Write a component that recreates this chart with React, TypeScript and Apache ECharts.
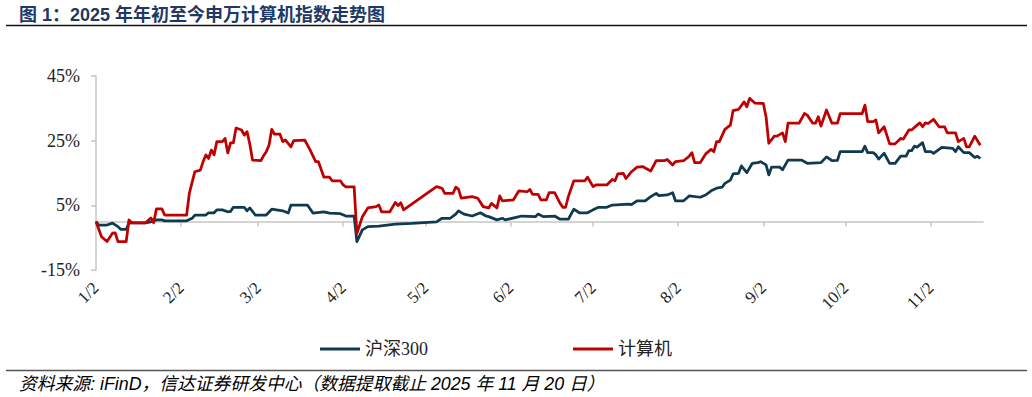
import React, { useEffect, useRef } from "react";
import * as echarts from "echarts";

// ---- data ----
const tickLabels = ["1/2", "2/2", "3/2", "4/2", "5/2", "6/2", "7/2", "8/2", "9/2", "10/2", "11/2"];
const xStart = "01-02";
const xEnd = "11-21";

const hs300Dates = [
  "01-02","01-03","01-06","01-08","01-10","01-11","01-13","01-14","01-15","01-20","01-22","01-24","01-26","01-27",
  "02-04","02-06","02-07","02-11","02-12","02-14","02-15","02-17","02-19","02-20","02-21","02-25","02-26","02-27",
  "03-01","03-05","03-07","03-11","03-13","03-14","03-20","03-22","03-26","03-28",
  "04-01","04-03","04-06","04-07","04-09","04-11","04-15","04-21","04-27",
  "05-06","05-08","05-11","05-13","05-14","05-16","05-19","05-22","05-24","05-25","05-28","05-30","05-31",
  "06-04","06-06","06-11","06-12","06-14","06-18","06-20","06-23","06-25","06-27","06-30",
  "07-02","07-04","07-07","07-09","07-15","07-16","07-18","07-21","07-23","07-25","07-26","07-29","07-31",
  "08-01","08-04","08-06","08-10","08-12","08-14","08-16","08-18","08-19","08-21","08-22","08-24","08-25","08-27","08-29","08-31",
  "09-01","09-03","09-04","09-05","09-08","09-09","09-11","09-16","09-18","09-23","09-25","09-27","09-29","09-30",
  "10-08","10-09","10-10","10-12","10-13","10-14","10-16","10-18","10-20","10-22","10-24","10-25","10-26","10-27","10-28","10-30","10-31",
  "11-02","11-03","11-06","11-10","11-11","11-12","11-14","11-16","11-18","11-19","11-20"
];
const hs300Values = [
  0.0,-1.1,-1.1,-0.5,-1.6,-2.4,-2.4,-0.5,-0.4,-0.4,-0.1,0.5,0.5,0.2,
  0.2,1.0,2.0,2.0,2.7,2.7,3.6,3.6,3.0,3.1,4.4,4.4,3.3,4.2,
  2.0,2.0,3.8,3.3,2.6,5.1,5.1,2.6,3.0,2.6,
  2.4,1.7,1.7,-6.2,-2.6,-1.6,-1.4,-0.8,-0.6,
  -0.1,1.0,1.0,2.3,3.3,2.3,1.7,2.7,1.7,1.5,0.5,1.0,0.5,
  1.3,1.7,1.5,2.3,1.5,1.7,0.7,0.7,3.8,2.7,2.7,
  3.6,4.4,4.4,5.1,5.4,5.2,6.4,6.4,7.7,8.7,8.0,8.2,8.9,
  6.4,6.4,7.9,7.5,8.2,9.5,10.3,10.6,11.8,12.8,14.7,14.9,17.2,15.1,18.0,18.2,
  18.5,17.5,14.4,16.8,16.8,16.0,19.0,19.0,18.0,18.2,20.0,18.8,18.9,21.6,
  21.6,23.3,21.3,21.3,20.6,19.3,21.1,18.0,18.0,20.2,20.2,21.9,21.9,23.3,23.0,24.4,21.6,
  21.6,21.1,22.9,22.6,21.6,23.1,21.3,21.3,19.8,20.2,19.5
];

const computerDates = [
  "01-02","01-04","01-06","01-08","01-09","01-10","01-13","01-14","01-15","01-20","01-22","01-23","01-24","01-26","01-27",
  "02-04","02-05","02-07","02-09","02-10","02-11","02-12","02-13","02-14","02-15","02-17","02-18","02-19","02-20","02-21","02-22","02-24","02-25","02-26","02-27","02-28",
  "03-03","03-04","03-05","03-06","03-07","03-08","03-10","03-11","03-12","03-14","03-15","03-19","03-21","03-23","03-24","03-26","03-28","03-29",
  "04-01","04-02","04-03","04-06","04-07","04-09","04-11","04-14","04-15","04-16","04-19","04-21","04-22","04-23","04-24",
  "05-06","05-08","05-09","05-12","05-13","05-14","05-15","05-19","05-21","05-23","05-25","05-26","05-28","05-29","05-30",
  "06-03","06-05","06-08","06-09","06-10","06-12","06-13","06-15","06-16","06-18","06-20","06-21","06-22","06-23","06-25","06-29","06-30",
  "07-02","07-03","07-07","07-09","07-10","07-11","07-13","07-14","07-16","07-18","07-20","07-23","07-25","07-28","07-29","07-31",
  "08-01","08-04","08-06","08-07","08-08","08-10","08-12","08-14","08-15","08-16","08-17","08-19","08-21","08-22","08-24","08-26","08-27","08-28","08-30",
  "09-01","09-02","09-03","09-04","09-06","09-07","09-09","09-10","09-11","09-15","09-17","09-18","09-20","09-21","09-22","09-23","09-25","09-27","09-29","09-30",
  "10-08","10-09","10-10","10-12","10-13","10-14","10-16","10-18","10-20","10-22","10-23","10-25","10-26","10-28","10-29","10-30","10-31",
  "11-01","11-03","11-05","11-07","11-08","11-11","11-12","11-14","11-15","11-16","11-18","11-20"
];
const computerValues = [
  0.0,-4.7,-6.2,-3.6,-3.5,-6.2,-6.2,0.5,-0.4,-0.4,1.1,-0.4,3.9,3.9,2.0,
  2.0,8.8,15.4,15.9,18.5,20.6,19.5,22.1,20.6,24.7,24.7,25.7,21.2,24.3,24.3,28.9,28.3,26.7,27.8,24.0,19.0,
  18.8,20.3,21.6,23.6,28.5,27.0,27.0,24.7,25.2,23.1,25.0,25.2,22.1,18.5,18.5,13.7,13.7,12.6,
  12.6,11.3,10.7,10.7,-3.7,1.5,4.2,4.6,5.1,3.0,3.0,5.9,4.9,5.8,3.6,
  10.8,10.3,8.7,8.7,10.6,10.0,7.2,7.7,7.2,4.6,4.2,5.6,4.2,7.9,6.4,
  6.7,9.5,9.2,9.9,8.4,8.4,6.7,6.7,8.9,8.9,5.6,4.4,4.4,7.7,12.6,12.6,13.7,
  10.8,11.3,11.3,13.0,12.6,14.7,14.9,13.3,15.4,16.8,17.0,15.6,18.8,18.8,19.2,17.5,
  18.5,18.8,20.2,21.3,18.2,18.2,20.9,22.3,21.6,24.7,24.7,28.5,29.8,34.3,34.7,37.0,35.5,38.1,36.6,
  36.5,36.5,32.4,24.2,26.4,26.4,27.4,24.7,30.4,30.4,33.4,32.9,30.4,30.4,32.4,29.5,34.5,30.4,30.4,33.4,
  33.4,36.0,30.9,30.9,31.4,27.4,29.3,24.0,24.0,25.7,25.5,28.3,28.3,29.8,30.5,29.3,30.5,
  30.3,31.6,29.3,29.3,27.4,27.4,24.7,25.7,23.1,23.1,26.4,23.6
];

const seriesNames = ["沪深300", "计算机"];
const yTicks = { min: -15, max: 45, interval: 20 };

const titleText = "图 1：2025 年年初至今申万计算机指数走势图";
const footerText = "资料来源: iFinD，信达证券研发中心（数据提取截止 2025 年 11 月 20 日）";

const DAY = 86400000;
const toTs = (md: string) => {
  const [m, d] = md.split("-").map(Number);
  return Date.UTC(2025, m - 1, d) / DAY;
};
const tickTs = tickLabels.map((s) => {
  const [m, d] = s.split("/").map(Number);
  return Date.UTC(2025, m - 1, d) / DAY;
});
const fmtDay = (v: number) => {
  const d = new Date(Math.round(v) * DAY);
  return `${d.getUTCMonth() + 1}/${d.getUTCDate()}`;
};

export default function App() {
  const ref = useRef<HTMLDivElement>(null);
  useEffect(() => {
    if (!ref.current) return;
    const chart = echarts.init(ref.current, undefined, { renderer: "svg" });
    const axisGray = "#c6c6c6";
    const serif = '"Liberation Serif", "Times New Roman", "Noto Sans CJK SC", serif';
    const xMin = toTs(xStart);
    const xMax = toTs(xEnd);
    chart.setOption({
      animation: false,
      grid: { left: 96, top: 76, width: 887, height: 194, containLabel: false },
      legend: {
        left: 315,
        top: 335,
        icon: "rect",
        itemWidth: 40,
        itemHeight: 3,
        itemGap: 145,
        textStyle: { fontSize: 18, fontFamily: serif, color: "#222" },
        data: seriesNames,
      },
      xAxis: [
        {
          type: "value",
          min: xMin,
          max: xMax,
          position: "bottom",
          axisLine: { show: false, onZero: false },
          axisTick: { show: false },
          splitLine: { show: false },
          axisLabel: {
            customValues: tickTs,
            rotate: 45,
            margin: 15,
            fontSize: 17,
            fontFamily: serif,
            color: "#222",
            formatter: (v: number) => fmtDay(v),
          },
        },
        {
          type: "value",
          min: xMin,
          max: xMax,
          position: "bottom",
          axisLine: { show: true, onZero: true, lineStyle: { color: axisGray, width: 1.5 } },
          axisTick: { show: true, customValues: tickTs, length: 5, lineStyle: { color: axisGray, width: 1.5 } },
          axisLabel: { show: false },
          splitLine: { show: false },
        },
      ],
      yAxis: {
        type: "value",
        min: yTicks.min,
        max: yTicks.max,
        interval: yTicks.interval,
        axisLine: { show: true, lineStyle: { color: axisGray, width: 1.5 } },
        axisTick: { show: true, length: 5, lineStyle: { color: axisGray, width: 1.5 } },
        splitLine: { show: false },
        axisLabel: {
          margin: 16,
          fontSize: 18,
          fontFamily: serif,
          color: "#222",
          formatter: (v: number) => `${v}%`,
        },
      },
      series: [
        {
          name: seriesNames[0],
          type: "line",
          xAxisIndex: 0,
          symbol: "none",
          color: "#0f3a50",
          lineStyle: { width: 2.75, color: "#0f3a50", join: "round" },
          data: hs300Dates.map((d, i) => [toTs(d), hs300Values[i]]),
        },
        {
          name: seriesNames[1],
          type: "line",
          xAxisIndex: 0,
          symbol: "none",
          color: "#c00000",
          lineStyle: { width: 2.75, color: "#c00000", join: "round" },
          data: computerDates.map((d, i) => [toTs(d), computerValues[i]]),
        },
      ],
      graphic: [
        {
          type: "text",
          style: {
            x: 19,
            y: 14.5,
            text: titleText,
            verticalAlign: "middle",
            fontSize: 18,
            fontWeight: "bold",
            fontFamily: '"Liberation Sans", Arial, "Noto Sans CJK SC", sans-serif',
            fill: "#1f3864",
          },
        },
        {
          type: "line",
          shape: { x1: 6, y1: 25.5, x2: 1027, y2: 25.5 },
          style: { stroke: "#111", lineWidth: 1.6 },
        },
        {
          type: "line",
          shape: { x1: 6, y1: 370.5, x2: 1027, y2: 370.5 },
          style: { stroke: "#555", lineWidth: 1.5 },
        },
        {
          type: "text",
          style: {
            x: 19,
            y: 384,
            text: footerText,
            verticalAlign: "middle",
            fontSize: 17.8,
            fontStyle: "italic",
            fontFamily: '"Liberation Sans", Arial, "Noto Sans CJK SC", sans-serif',
            fill: "#000",
          },
        },
      ],
    });
    return () => chart.dispose();
  }, []);
  return (
    <div
      ref={ref}
      style={{ position: "absolute", left: 0, top: 0, width: 1032, height: 397, background: "#fff" }}
    />
  );
}
